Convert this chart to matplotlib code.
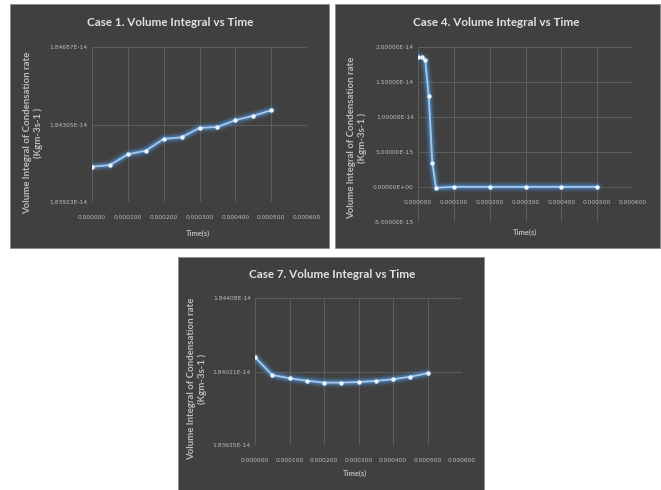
import matplotlib
matplotlib.use("Agg")
import matplotlib.pyplot as plt
from matplotlib.ticker import FormatStrFormatter, FixedLocator
from matplotlib.patches import Rectangle

# ---- data -------------------------------------------------------------
case1_time = [0.0, 0.00005, 0.0001, 0.00015, 0.0002, 0.00025, 0.0003,
              0.00035, 0.0004, 0.00045, 0.0005]
case1_vals = [1.84097e-14, 1.84105e-14, 1.84158e-14, 1.84176e-14, 1.84234e-14,
              1.84242e-14, 1.84288e-14, 1.84293e-14, 1.84326e-14, 1.84348e-14,
              1.84375e-14]

case4_time = [0.0, 0.00001, 0.00002, 0.00003, 0.00004, 0.00005, 0.0001,
              0.0002, 0.0003, 0.0004, 0.0005]
case4_vals = [1.860e-14, 1.853e-14, 1.814e-14, 1.300e-14, 0.347e-14, -0.010e-14,
              0.002e-14, 0.002e-14, 0.002e-14, 0.002e-14, 0.002e-14]

case7_time = [0.0, 0.00005, 0.0001, 0.00015, 0.0002, 0.00025, 0.0003,
              0.00035, 0.0004, 0.00045, 0.0005]
case7_vals = [1.84096e-14, 1.84003e-14, 1.83986e-14, 1.83973e-14, 1.83963e-14,
              1.83963e-14, 1.83966e-14, 1.83972e-14, 1.83981e-14, 1.83994e-14,
              1.84012e-14]

x_ticks = [0.0, 0.0001, 0.0002, 0.0003, 0.0004, 0.0005, 0.0006]
case1_yticks = [1.83923e-14, 1.84305e-14, 1.84687e-14]
case4_yticks = [-5e-15, 0.0, 5e-15, 1e-14, 1.5e-14, 2e-14]
case7_yticks = [1.83635e-14, 1.840214e-14, 1.84408e-14]

titles = ["Case 1. Volume Integral vs Time",
          "Case 4. Volume Integral vs Time",
          "Case 7. Volume Integral vs Time"]
y_title = "Volume Integral of Condensation rate\n(Kgm-3s-1 )"
x_title = "Time(s)"

# ---- style ------------------------------------------------------------
plt.rcParams["font.family"] = ["Lato", "DejaVu Sans"]
W, H = 661, 490
BG = "#404040"
GRID = "#5e5e5e"
TXT = "#bdbdbd"
TITLE_C = "#e2e2e2"
LINE = "#4f95dc"
TICK_FONT = "DejaVu Sans"

fig = plt.figure(figsize=(W / 100, H / 100), dpi=100)
fig.patch.set_facecolor("white")


def fx(px):
    return px / W


def fy(py):
    return 1 - py / H


def panel_bg(x0, y0, x1, y1):
    fig.patches.append(Rectangle((fx(x0), fy(y1)), fx(x1 - x0), (y1 - y0) / H,
                                 transform=fig.transFigure, facecolor=BG,
                                 edgecolor="#8a8a8a", linewidth=0.6, zorder=-5))


def plot_area(x0, y0, x1, y1):
    ax = fig.add_axes([fx(x0), fy(y1), fx(x1 - x0), (y1 - y0) / H])
    ax.set_facecolor(BG)
    for s in ax.spines.values():
        s.set_visible(False)
    ax.grid(True, color=GRID, linewidth=0.7)
    ax.tick_params(length=0, colors=TXT, labelsize=4.3, pad=3)
    ax.set_axisbelow(True)
    return ax


def style_ticks(ax):
    for lab in ax.get_xticklabels() + ax.get_yticklabels():
        lab.set_fontfamily(TICK_FONT)


def glow_line(ax, x, y):
    for lw, a in [(8, 0.10), (5.5, 0.20), (3.6, 0.40)]:
        ax.plot(x, y, color=LINE, lw=lw, alpha=a, solid_capstyle="round",
                solid_joinstyle="round", zorder=3)
    ax.plot(x, y, color="#a8c9ee", lw=1.3, zorder=4, solid_joinstyle="round")
    ax.plot(x, y, linestyle="none", marker="o", markersize=2.2,
            color="#eef4fb", zorder=5)


def labels(title, tx, ty, ylx, yly, xlx, xly):
    fig.text(fx(tx), fy(ty), title, ha="center", va="center", color=TITLE_C,
             fontsize=8.4, fontweight="bold")
    fig.text(fx(ylx), fy(yly), y_title, ha="center", va="center", color=TXT,
             fontsize=6.9, fontweight="bold", rotation=90, linespacing=1.1,
             multialignment="center")
    fig.text(fx(xlx), fy(xly), x_title, ha="center", va="center", color=TXT,
             fontsize=5.4, fontweight="bold")


# ---- Case 1 -----------------------------------------------------------
panel_bg(10, 4, 329, 248)
ax1 = plot_area(92, 47, 307, 202)
glow_line(ax1, case1_time, case1_vals)
ax1.set_xlim(0, 0.0006)
ax1.set_ylim(case1_yticks[0], case1_yticks[-1])
ax1.xaxis.set_major_locator(FixedLocator(x_ticks))
ax1.yaxis.set_major_locator(FixedLocator(case1_yticks))
ax1.xaxis.set_major_formatter(FormatStrFormatter("%.6f"))
ax1.yaxis.set_major_formatter(FormatStrFormatter("%.5E"))
ax1.tick_params(axis="x", pad=9)
style_ticks(ax1)
labels(titles[0], 170, 23, 33, 133, 198, 233)

# ---- Case 4 -----------------------------------------------------------
panel_bg(335, 4, 660, 248)
ax4 = plot_area(418, 47, 633, 222)
glow_line(ax4, case4_time, case4_vals)
ax4.set_xlim(0, 0.0006)
ax4.set_ylim(case4_yticks[0], case4_yticks[-1])
ax4.xaxis.set_major_locator(FixedLocator(x_ticks))
ax4.yaxis.set_major_locator(FixedLocator(case4_yticks))
ax4.xaxis.set_major_formatter(FormatStrFormatter("%.6f"))
ax4.yaxis.set_major_formatter(FormatStrFormatter("%.5E"))
ax4.spines["bottom"].set_position(("data", 0))
ax4.tick_params(axis="x", pad=9)
style_ticks(ax4)
labels(titles[1], 496, 23, 357, 138, 525, 232)

# ---- Case 7 -----------------------------------------------------------
panel_bg(178, 257, 484, 492)
ax7 = plot_area(255, 298, 462, 445)
glow_line(ax7, case7_time, case7_vals)
ax7.set_xlim(0, 0.0006)
ax7.set_ylim(case7_yticks[0], case7_yticks[-1])
ax7.xaxis.set_major_locator(FixedLocator(x_ticks))
ax7.yaxis.set_major_locator(FixedLocator(case7_yticks))
ax7.xaxis.set_major_formatter(FormatStrFormatter("%.6f"))
ax7.yaxis.set_major_formatter(FormatStrFormatter("%.5E"))
ax7.tick_params(axis="x", pad=9)
style_ticks(ax7)
labels(titles[2], 332, 275, 197, 379, 355, 473)

fig.savefig("out.png", dpi=100, facecolor="white")
